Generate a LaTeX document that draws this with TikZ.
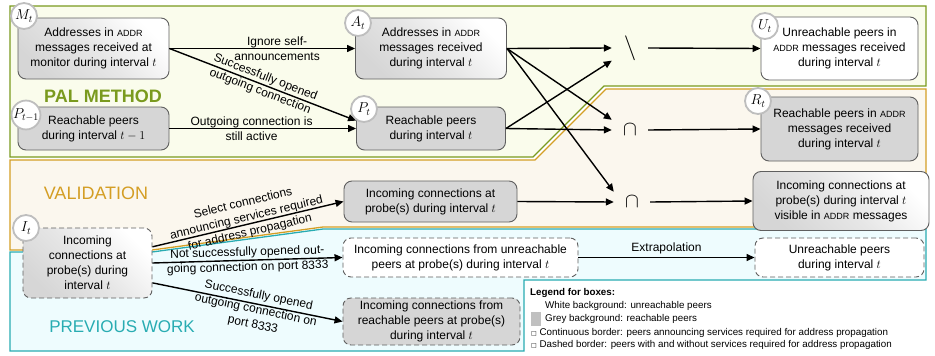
\documentclass[tikz,border=0pt]{standalone}
\usepackage[no-math]{fontspec}
\setmainfont{Liberation Sans}
\newfontfamily\symfont{DejaVu Sans}
\usetikzlibrary{arrows.meta}
\definecolor{palgreen}{RGB}{122,154,30}
\definecolor{palfill}{RGB}{250,252,236}
\definecolor{valorange}{RGB}{212,158,36}
\definecolor{valfill}{RGB}{251,247,238}
\definecolor{prevteal}{RGB}{40,172,178}
\definecolor{prevfill}{RGB}{238,252,254}
\definecolor{boxgrey}{RGB}{214,214,214}
\definecolor{boxborder}{RGB}{95,95,95}
\definecolor{labelgrey}{RGB}{190,190,190}
\definecolor{legendgrey}{RGB}{192,192,192}
\newcommand{\addr}{{\fontsize{9}{9}\selectfont ADDR}}
\tikzset{box/.style={draw=boxborder, line width=0.9pt, rounded corners=8pt, align=center, inner sep=2pt, font=\fontsize{12}{15}\selectfont}}
\tikzset{grey box/.style={box, fill=boxgrey}}
\tikzset{white box/.style={box, fill=white}}
\tikzset{shaded box/.style={box, top color=boxgrey, bottom color=white, middle color=boxgrey!60, shading angle=135}}
\tikzset{dashed box/.style={dash pattern=on 5pt off 3pt}}
\tikzset{set label/.style={circle, draw=labelgrey, line width=1.8pt, fill=white, inner sep=0pt, minimum size=26pt, font=\Large}}
\tikzset{op/.style={minimum width=36pt, minimum height=20pt, inner sep=0pt, font=\huge}}
\tikzset{flow/.style={-{Triangle[length=8pt,width=7pt]}, line width=1.4pt}}
\tikzset{edge label/.style={align=center, inner sep=0pt, font=\fontsize{12}{15}\selectfont}}
\tikzset{region title/.style={inner sep=0pt, font=\fontsize{18}{18}\selectfont}}
\tikzset{legend text/.style={anchor=west, inner sep=0pt, font=\fontsize{9.8}{12}\selectfont}}

\begin{document}
\begin{tikzpicture}[x=1pt, y=-1pt]
\useasboundingbox (0,0) rectangle (935,356);

\draw[draw=palgreen, fill=palfill, line width=1.3pt] (10,6) -- (926,6) -- (926,86) -- (604,86) -- (533,157) -- (10,157) -- cycle;
\draw[draw=valorange, fill=valfill, line width=1.3pt] (10,160) -- (535,160) -- (606,89) -- (926,89) -- (926,227) -- (323,227) -- (152,250) -- (10,250) -- cycle;
\draw[draw=prevteal, fill=prevfill, line width=1.3pt] (10,252) -- (152,252) -- (323,229) -- (926,229) -- (926,280) -- (524,280) -- (524,351) -- (10,351) -- cycle;

\node[region title, text=palgreen, font=\fontsize{18}{18}\selectfont\bfseries] (palname) at (103,96) {PAL METHOD};
\node[region title, text=valorange] (valname) at (96,193) {VALIDATION};
\node[region title, text=prevteal, font=\fontsize{17}{17}\selectfont] (prevname) at (122,327) {PREVIOUS WORK};

\node[shaded box, minimum width=151pt, minimum height=61pt] (Mt) at (93.5,48.5) {Addresses in \addr\\messages received at\\monitor during interval $t$};
\node[grey box, minimum width=151pt, minimum height=43pt] (Ptm) at (93.5,128.5) {Reachable peers\\during interval $t-1$};
\node[shaded box, minimum width=151pt, minimum height=61pt] (At) at (431,48.5) {Addresses in \addr\\messages received\\during interval $t$};
\node[grey box, minimum width=149pt, minimum height=43pt] (Pt) at (431,128.5) {Reachable peers\\during interval $t$};
\node[white box, minimum width=157pt, minimum height=63pt] (Ut) at (839.5,48.5) {Unreachable peers in\\\addr{} messages received\\during interval $t$};
\node[grey box, minimum width=157pt, minimum height=64pt] (Rt) at (839.5,129) {Reachable peers in \addr\\messages received\\during interval $t$};
\node[grey box, minimum width=173pt, minimum height=41pt] (Ival) at (430.5,201.5) {Incoming connections at\\probe(s) during interval $t$};
\node[shaded box, minimum width=176pt, minimum height=59pt] (Vt) at (841,201) {Incoming connections at\\probe(s) during interval $t$\\visible in \addr{} messages};
\node[shaded box, dashed box, minimum width=129pt, minimum height=70pt] (It) at (87.5,263) {Incoming\\connections at\\probe(s) during\\interval $t$};
\node[white box, dashed box, minimum width=235pt, minimum height=39pt] (Iu) at (460.5,257.5) {Incoming connections from unreachable\\peers at probe(s) during interval $t$};
\node[white box, dashed box, minimum width=169pt, minimum height=39pt] (Up) at (839.5,257.5) {Unreachable peers\\during interval $t$};
\node[grey box, dashed box, minimum width=177pt, minimum height=47pt] (Ir) at (431.5,321.5) {Incoming connections from\\reachable peers at probe(s)\\during interval $t$};

\node[set label] (Mtlbl) at (24,16) {$M_t$};
\node[set label] (Ptmlbl) at (26,115) {$P_{t-1}$};
\node[set label] (Atlbl) at (358,23) {$A_t$};
\node[set label] (Ptlbl) at (364,109) {$P_t$};
\node[set label] (Utlbl) at (765,26) {$U_t$};
\node[set label] (Rtlbl) at (758,101) {$R_t$};
\node[set label] (Itlbl) at (26,228) {$I_t$};

\node[op, font=\Huge] (diff) at (630,48) {$\setminus$};
\node[op] (capR) at (630,130) {$\cap$};
\node[op] (capV) at (632,202) {$\cap$};

\draw[flow] (Mt.east) -- (At.west) node[edge label, pos=0.58] {Ignore self-\\announcements};
\draw[flow] (Mt.east) -- (Pt.174) node[edge label, midway, sloped] {Successfully opened\\outgoing connection};
\draw[flow] (Ptm.east) -- (Pt.west) node[edge label, pos=0.44] {Outgoing connection is\\still active};
\draw[flow] (At.east) -- (diff.west);
\draw[flow] (At.east) -- (capR.north west);
\draw[flow] (At.east) -- (capV.north west);
\draw[flow] (Pt.east) -- (diff.south west);
\draw[flow] (Pt.east) -- (capR.west);
\draw[flow] (diff.east) -- (Ut.west);
\draw[flow] (capR.east) -- (Rt.west);
\draw[flow] (capV.east) -- (Vt.west);
\draw[flow] (Ival.east) -- (capV.west);
\draw[flow] (It.14) -- (Ival.west) node[edge label, midway, sloped, above=-15pt] {Select connections\\announcing services required\\for address propagation};
\draw[flow] (It.east) -- (Iu.west) node[edge label, midway, sloped] {Not successfully opened out-\\going connection on port 8333};
\draw[flow] (It.-17) -- (Ir.west) node[edge label, pos=0.55, sloped, below=-15pt] {Successfully opened\\outgoing connection on\\port 8333};
\draw[flow] (Iu.east) -- (Up.west) node[edge label, midway, above=3pt] {Extrapolation};

\fill[white] (526,282) rectangle (935,356);
\node[legend text] (lgtitle) at (530,293) {\textbf{Legend for boxes:}};
\node[legend text] (lgwhite) at (545,306) {White background: unreachable peers};
\node[fill=legendgrey, minimum width=10pt, minimum height=14pt, inner sep=0pt] (lgswatch) at (536,319) {};
\node[legend text] (lggrey) at (545,319) {Grey background: reachable peers};
\node[legend text] (lgsolid) at (531,333) {{\symfont\fontsize{6}{6}\selectfont □} Continuous border: peers announcing services required for address propagation};
\node[legend text] (lgdash) at (531,345) {{\symfont\fontsize{6}{6}\selectfont □} Dashed border: peers with and without services required for address propagation};
\end{tikzpicture}
\end{document}
